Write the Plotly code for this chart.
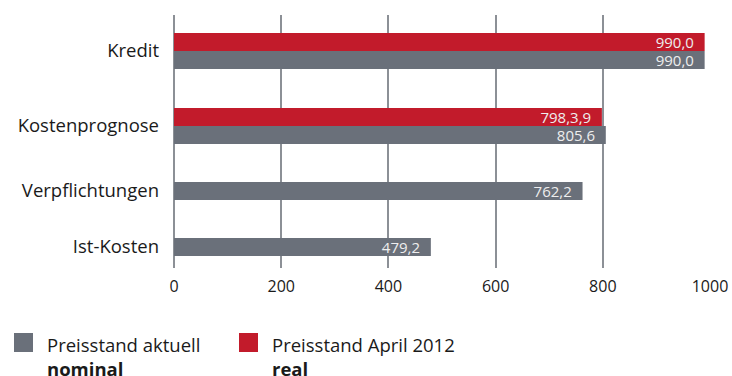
import plotly.graph_objects as go

# ---- data ----
categories = ["Kredit", "Kostenprognose", "Verpflichtungen", "Ist-Kosten"]
nominal_values = [990.0, 805.6, 762.2, 479.2]
nominal_labels = ["990,0", "805,6", "762,2", "479,2"]
real_categories = ["Kredit", "Kostenprognose"]
real_values = [990.0, 798.3]
real_labels = ["990,0", "798,3,9"]
x_ticks = [0, 200, 400, 600, 800, 1000]
series_names = ["Preisstand aktuell", "Preisstand April 2012"]
series_sub = ["nominal", "real"]

# ---- layout constants (pixel-like y scale) ----
W, H = 732, 376
L, R, T, B = 174, W - 710, 15, H - 268
cat_pos = {"Kredit": 51, "Kostenprognose": 126, "Verpflichtungen": 191, "Ist-Kosten": 247}
BAR_H = 18
GRAY = "#6a707a"
RED = "#c21b2b"
FONT = "Open Sans"
TXT = "#1a1a1a"

def y_for(cat, series):
    paired = cat in real_categories
    c = cat_pos[cat]
    if not paired:
        return c
    return c + BAR_H / 2 if series == "nominal" else c - BAR_H / 2

fig = go.Figure()
fig.add_trace(go.Bar(
    orientation="h",
    x=nominal_values,
    y=[y_for(c, "nominal") for c in categories],
    width=BAR_H,
    marker=dict(color=GRAY, line=dict(width=0)),
    text=[t + "\u00a0\u00a0" for t in nominal_labels],
    textposition="inside",
    insidetextanchor="end",
    constraintext="none",
    textfont=dict(family=FONT, size=15, color="#eeeeee"),
    showlegend=False,
    hoverinfo="skip",
))
fig.add_trace(go.Bar(
    orientation="h",
    x=real_values,
    y=[y_for(c, "real") for c in real_categories],
    width=BAR_H,
    marker=dict(color=RED, line=dict(width=0)),
    text=[t + "\u00a0\u00a0" for t in real_labels],
    textposition="inside",
    insidetextanchor="end",
    constraintext="none",
    textfont=dict(family=FONT, size=15, color="#eeeeee"),
    showlegend=False,
    hoverinfo="skip",
))

plot_w = W - L - R
plot_h = H - T - B

def px_x(px):
    return (px - L) / plot_w

def px_y(py):
    return (H - B - py) / plot_h

shapes = []
annotations = []
legend_x = [14, 239]
for i, col in enumerate([GRAY, RED]):
    x0 = legend_x[i]
    shapes.append(dict(type="rect", xref="paper", yref="paper",
                       x0=px_x(x0), x1=px_x(x0 + 19), y0=px_y(352), y1=px_y(333),
                       fillcolor=col, line=dict(width=0)))
    annotations.append(dict(xref="paper", yref="paper", x=px_x(x0 + 31), y=px_y(330),
                            xanchor="left", yanchor="top", align="left", showarrow=False,
                            text=f"{series_names[i]}<br><b>{series_sub[i]}</b>",
                            font=dict(family=FONT, size=18.5, color=TXT)))

fig.update_layout(
    width=W, height=H,
    margin=dict(l=L, r=R, t=T, b=B, pad=0, autoexpand=False),
    paper_bgcolor="white", plot_bgcolor="white",
    barmode="overlay",
    shapes=shapes,
    annotations=annotations,
    xaxis=dict(range=[0, 1000], tickvals=x_ticks, ticktext=[str(v) for v in x_ticks],
               showgrid=True, gridcolor="#8c9096", gridwidth=1.5,
               zeroline=True, zerolinecolor="#8c9096", zerolinewidth=1.5,
               showline=False, ticks="", automargin=False, ticklabelstandoff=7,
               tickfont=dict(family=FONT, size=16, color=TXT)),
    yaxis=dict(range=[268, 15], tickvals=[cat_pos[c] for c in categories],
               ticktext=categories, showgrid=False, zeroline=False, showline=False,
               ticks="", ticklabelstandoff=14, automargin=False,
               tickfont=dict(family=FONT, size=18.5, color=TXT)),
    font=dict(family=FONT),
)

fig.write_html("out.html")
